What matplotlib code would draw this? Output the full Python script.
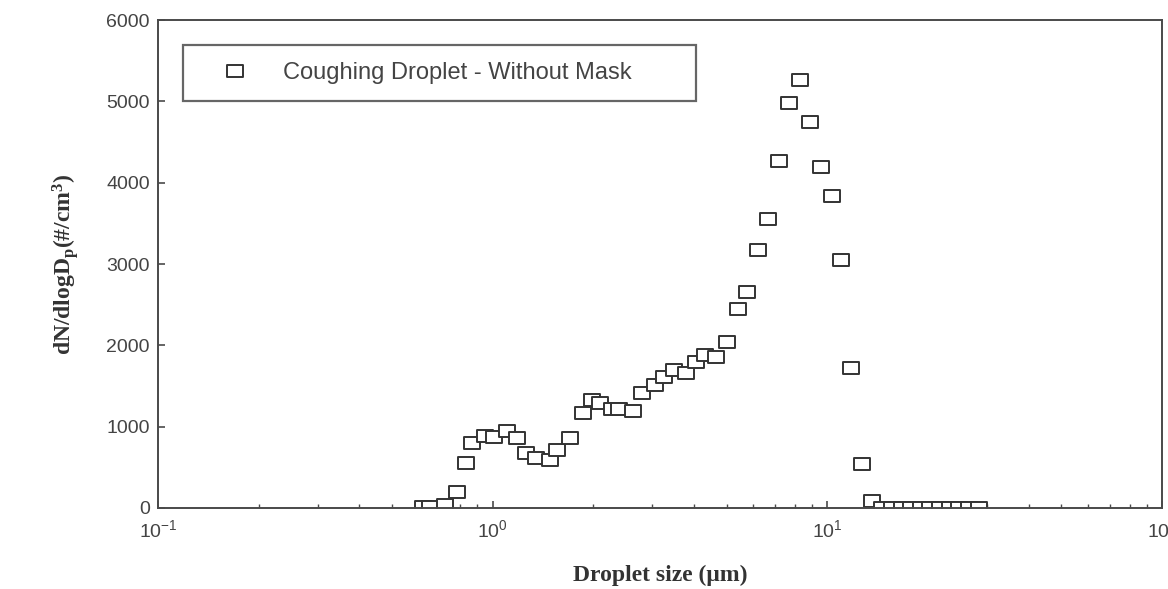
import numpy as np
import matplotlib
matplotlib.use("Agg")
import matplotlib.pyplot as plt
from matplotlib.path import Path
from matplotlib.ticker import LogLocator, NullFormatter

# droplet size distribution, coughing without mask
diam = [0.62, 0.65, 0.72, 0.78, 0.83, 0.87, 0.95, 1.01, 1.10, 1.18,
        1.26, 1.35, 1.48, 1.56, 1.70, 1.86, 1.98, 2.09, 2.27, 2.39,
        2.62, 2.80, 3.05, 3.26, 3.49, 3.77, 4.06, 4.30, 4.66, 5.03,
        5.39, 5.77, 6.22, 6.67, 7.19, 7.70, 8.30, 8.90, 9.60, 10.3,
        11.0, 11.8, 12.7, 13.6, 14.6, 15.6, 16.7, 17.8, 19.0, 20.3,
        21.7, 23.2, 24.8, 26.5, 28.3]
conc = [10, 10, 40, 200, 550, 800, 880, 870, 950, 860,
        680, 620, 590, 710, 860, 1170, 1330, 1290, 1220, 1220,
        1190, 1410, 1510, 1610, 1700, 1660, 1800, 1880, 1860, 2040,
        2450, 2660, 3170, 3550, 4270, 4980, 5260, 4750, 4190, 3830,
        3050, 1720, 540, 90, 0, 0, 0, 0, 0, 0,
        0, 0, 0, 0, 0]
series_label = "Coughing Droplet - Without Mask"
y_ticks = [0, 1000, 2000, 3000, 4000, 5000, 6000]

plt.rcParams['font.family'] = ['Liberation Sans', 'DejaVu Sans']
plt.rcParams['mathtext.default'] = 'regular'

# slightly wide open rectangle, like the scanned markers
rect = Path([(-1.3, -1), (1.3, -1), (1.3, 1), (-1.3, 1), (-1.3, -1)],
            [Path.MOVETO, Path.LINETO, Path.LINETO, Path.LINETO, Path.CLOSEPOLY])

fig = plt.figure(figsize=(11.68, 5.89), dpi=100)
ax = fig.add_axes([158/1168, 1-508/589, (1162-158)/1168, (508-20)/589])

ax.plot(diam, conc, linestyle='none', marker=rect, markersize=12,
        markerfacecolor='white', markeredgecolor='#333333',
        markeredgewidth=1.4, label=series_label)

ax.set_xscale('log')
ax.set_xlim(0.1, 100)
ax.set_ylim(0, 6000)
ax.set_yticks(y_ticks)
ax.xaxis.set_minor_locator(LogLocator(base=10, subs=np.arange(2, 10)))
ax.xaxis.set_minor_formatter(NullFormatter())

for s in ax.spines.values():
    s.set_color('#4a4a4a')
    s.set_linewidth(1.4)

ax.tick_params(axis='both', which='major', direction='in', length=5,
               width=1.2, color='#4a4a4a', labelsize=14, labelcolor='#444444')
ax.tick_params(axis='x', which='major', pad=8)
ax.tick_params(axis='y', which='major', pad=6)
ax.tick_params(axis='x', which='minor', direction='in', length=3,
               width=1.0, color='#4a4a4a')

ax.set_xlabel("Droplet size (\u03bcm)", family=['Liberation Serif', 'DejaVu Serif'],
              fontweight='bold', fontsize=17, color='#333333', labelpad=17)
ax.set_ylabel("dN/dlogD$_p$(#/cm$^3$)", family=['Liberation Serif', 'DejaVu Serif'],
              fontweight='bold', fontsize=17, color='#333333', labelpad=18)

leg = ax.legend(loc='upper left', bbox_to_anchor=(0.0249, 0.836, 0.511, 0.113),
                mode='expand', borderaxespad=0, fancybox=False, shadow=False,
                fontsize=17, handlelength=3.0, handletextpad=0.5,
                borderpad=0.72, markerscale=1.0)
leg.get_frame().set_edgecolor('#404040')
leg.get_frame().set_linewidth(1.6)
for t in leg.get_texts():
    t.set_color('#444444')

fig.savefig("out.png", dpi=100)
